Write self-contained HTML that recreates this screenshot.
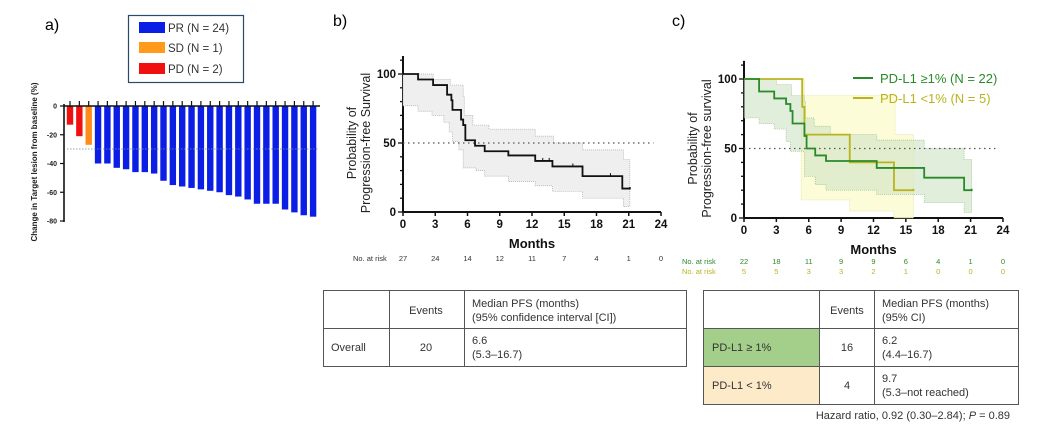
<!DOCTYPE html>
<html><head><meta charset="utf-8"><style>
body{margin:0;background:#fff;width:1038px;height:435px;overflow:hidden;font-family:"Liberation Sans",Arial,sans-serif}
svg{position:absolute;left:0;top:0}
</style></head><body>
<svg id="s" width="1038" height="435" xmlns="http://www.w3.org/2000/svg" font-family="Liberation Sans, Arial, sans-serif">
<text x="45" y="30" font-size="16">a)</text>
<text x="333" y="26" font-size="16">b)</text>
<text x="672" y="26" font-size="16">c)</text>
<rect x="128.5" y="15.5" width="115" height="67" fill="#fff" stroke="#2a4a6a" stroke-width="1.2"/>
<rect x="139" y="22" width="26" height="11" fill="#0a1ee6"/>
<rect x="139" y="42" width="26" height="11" fill="#ff9a1a"/>
<rect x="139" y="63" width="26" height="11" fill="#f01010"/>
<text x="168" y="32" font-size="11.5" fill="#333">PR (N = 24)</text>
<text x="168" y="52" font-size="11.5" fill="#333">SD (N = 1)</text>
<text x="168" y="73" font-size="11.5" fill="#333">PD (N = 2)</text>
<text transform="translate(37,162) rotate(-90)" text-anchor="middle" font-size="8" font-weight="bold" fill="#222">Change in Target lesion from baseline (%)</text>
<g id="a"></g>
<g stroke="#555" stroke-width="1" fill="none">
<rect x="323.5" y="290.5" width="363" height="76"/>
<line x1="389.5" y1="290" x2="389.5" y2="367"/><line x1="464.5" y1="290" x2="464.5" y2="367"/>
<line x1="323" y1="328.5" x2="687" y2="328.5"/>
</g>
<g font-size="11" fill="#333">
<text x="426" y="314" text-anchor="middle">Events</text>
<text x="472" y="307">Median PFS (months)</text>
<text x="472" y="321">(95% confidence interval [CI])</text>
<text x="331" y="351">Overall</text>
<text x="426" y="351" text-anchor="middle">20</text>
<text x="472" y="344">6.6</text>
<text x="472" y="358">(5.3–16.7)</text>
</g>
<rect x="703" y="328" width="116" height="38" fill="#a3cf8a"/>
<rect x="703" y="366" width="116" height="38" fill="#fdeac8"/>
<g stroke="#555" stroke-width="1" fill="none">
<rect x="703.5" y="290.5" width="315" height="114"/>
<line x1="819.5" y1="290" x2="819.5" y2="405"/><line x1="874.5" y1="290" x2="874.5" y2="405"/>
<line x1="703" y1="328.5" x2="1019" y2="328.5"/><line x1="703" y1="366.5" x2="1019" y2="366.5"/>
</g>
<g font-size="11" fill="#333">
<text x="847" y="314" text-anchor="middle">Events</text>
<text x="882" y="307">Median PFS (months)</text>
<text x="882" y="321">(95% CI)</text>
<text x="712" y="351">PD-L1 ≥ 1%</text>
<text x="847" y="351" text-anchor="middle">16</text>
<text x="882" y="344">6.2</text><text x="882" y="358">(4.4–16.7)</text>
<text x="712" y="389">PD-L1 &lt; 1%</text>
<text x="847" y="389" text-anchor="middle">4</text>
<text x="882" y="382">9.7</text><text x="882" y="396">(5.3–not reached)</text>
<text x="1010" y="419" text-anchor="end">Hazard ratio, 0.92 (0.30–2.84); <tspan font-style="italic">P</tspan> = 0.89</text>
</g>
<g id="b"></g><g id="c"></g>
</svg>
<script>
const NS="http://www.w3.org/2000/svg";
function el(p,t,a,txt){const e=document.createElementNS(NS,t);for(const k in a)e.setAttribute(k,a[k]);if(txt!==undefined)e.textContent=txt;p.appendChild(e);return e;}
const A=document.getElementById('a');
const vals=[-13,-21,-27,-40,-40,-43,-44,-46,-46,-47,-52,-55,-56,-57,-58,-59,-60,-62,-63,-65,-68,-68,-68,-72,-74,-76,-77];
vals.forEach((v,i)=>{const cx=70+i*9.35;const col=i<2?'#f01010':(i==2?'#ff8c1a':'#0a1ee6');
el(A,'rect',{x:cx-3.2,y:106,width:6.4,height:-v*1.4375,fill:col});
el(A,'line',{x1:cx,y1:101,x2:cx,y2:106,stroke:'#111','stroke-width':1.2});});
el(A,'line',{x1:67,y1:149,x2:318,y2:149,stroke:'#888','stroke-width':0.8,'stroke-dasharray':'1.5,1.5'});
el(A,'line',{x1:64,y1:106,x2:320,y2:106,stroke:'#111','stroke-width':1.6});
el(A,'line',{x1:64,y1:104,x2:64,y2:222,stroke:'#111','stroke-width':1.6});
[0,-20,-40,-60,-80].forEach(v=>{const y=106-v*1.4375;el(A,'line',{x1:60,y1:y,x2:64,y2:y,stroke:'#111','stroke-width':1.2});
el(A,'text',{x:57,y:y+2.5,'font-size':7,'font-weight':'bold','text-anchor':'end',fill:'#222'},String(v));});
function step(pts,X,Y){let d='M'+X(pts[0][0])+','+Y(pts[0][1]);for(let i=1;i<pts.length;i++){d+='H'+X(pts[i][0])+'V'+Y(pts[i][1]);}return d;}
function band(up,lo,X,Y){let d=step(up,X,Y);const L=lo;let s='V'+Y(L[L.length-1][1]);for(let i=L.length-1;i>0;i--){s+='H'+X(L[i][0])+'V'+Y(L[i-1][1]);}s+='H'+X(L[0][0])+'Z';return d+s;}
function axes(G,x0,y0,y100,xs,title){
 const X=m=>x0+m*xs, Y=p=>y0-(y0-y100)*p/100;
 el(G,'line',{x1:x0,y1:y0,x2:X(24),y2:y0,stroke:'#111','stroke-width':2});
 el(G,'line',{x1:x0,y1:y0,x2:x0,y2:Y(113),stroke:'#111','stroke-width':2});
 for(let m=0;m<=24;m+=3){el(G,'line',{x1:X(m),y1:y0,x2:X(m),y2:y0+4,stroke:'#111','stroke-width':1.5});
  el(G,'text',{x:X(m),y:y0+16,'font-size':11.5,'font-weight':'bold','text-anchor':'middle',fill:'#111'},String(m));}
 for(let p=0;p<=110;p+=10){el(G,'line',{x1:x0-(p%50?3:5),y1:Y(p),x2:x0,y2:Y(p),stroke:'#111','stroke-width':1.3});}
 [0,50,100].forEach(p=>el(G,'text',{x:x0-7,y:Y(p)+4,'font-size':11.5,'font-weight':'bold','text-anchor':'end',fill:'#111'},String(p)));
 el(G,'text',{x:X(12),y:y0+36,'font-size':13,'font-weight':'bold','text-anchor':'middle',fill:'#111'},'Months');
 const tx=x0-47;
 el(G,'text',{transform:`translate(${tx},${(Y(100)+y0)/2}) rotate(-90)`,'font-size':12.5,'text-anchor':'middle',fill:'#222'},'Probability of');
 el(G,'text',{transform:`translate(${tx+14},${(Y(100)+y0)/2}) rotate(-90)`,'font-size':12.5,'text-anchor':'middle',fill:'#222'},title);
 return [X,Y];
}
const B=document.getElementById('b');
let [X,Y]=axes(B,403,212,74,10.75,'Progression-free Survival');
const bk=[[0,100],[1.4,96],[2.8,92],[4.1,85],[4.5,81],[4.6,74],[5.4,67],[5.6,63],[5.8,52],[6.7,48],[7.6,44],[9.8,41],[12.3,37],[13.9,33],[16.7,26],[20.4,17],[21.1,18]];
const bu=[[0,100],[2.8,96],[4.4,92],[5.6,84],[5.7,70],[6.5,63],[8,60],[12.3,55],[14,50],[16.7,45],[20.5,38],[21.1,38]];
const bl=[[0,77],[1.4,73],[2.7,70],[3.8,65],[4.3,58],[4.6,51],[5.2,45],[5.6,32],[6.8,30],[7.6,26],[9.8,22],[12.3,19],[13.9,15],[16.7,10],[20.5,4],[21.1,4]];
el(B,'path',{d:band(bu,bl,X,Y),fill:'#efefef',stroke:'#aaa','stroke-width':0.7,'stroke-dasharray':'1,1'});
el(B,'line',{x1:X(0),y1:Y(50),x2:X(23.3),y2:Y(50),stroke:'#555','stroke-width':1.2,'stroke-dasharray':'1.5,3.5'});
el(B,'path',{d:step(bk,X,Y),fill:'none',stroke:'#111','stroke-width':1.8});
[[13,37],[13.6,37],[15.8,33],[19.3,26]].forEach(c=>el(B,'line',{x1:X(c[0]),y1:Y(c[1])-3,x2:X(c[0]),y2:Y(c[1]),stroke:'#111'}));
el(B,'text',{x:353,y:261,'font-size':7.5,fill:'#333'},'No. at risk');
[27,24,14,12,11,7,4,1,0].forEach((n,i)=>el(B,'text',{x:X(i*3),y:261,'font-size':7.5,'text-anchor':'middle',fill:'#333'},String(n)));
const C=document.getElementById('c');
[X,Y]=axes(C,744,218,79,10.79,'Progression-free survival');
const G='#2a8a2a',YL='#b9b41e';
const gu=[[0,100],[3,96],[4.4,88],[5.6,84],[5.7,72],[6.5,66],[8,60],[12.3,56],[16.7,50],[20.4,42],[21.1,42]];
const gl=[[0,72],[1.4,68],[2.8,64],[3.9,55],[4.3,48],[5.6,30],[6.6,24],[7.6,20],[12.3,17],[16.7,11],[20.4,4],[21.1,4]];
const yu=[[5.3,100],[5.6,88],[13.9,88],[14,60],[15.7,60]];
const yl=[[5.3,13],[9.8,5],[13.9,0],[15.7,0]];
el(C,'path',{d:band(yu,yl,X,Y),fill:'#fbfbd2',stroke:'#dede90','stroke-width':0.7,'stroke-dasharray':'1,1','fill-opacity':0.85});
el(C,'path',{d:band(gu,gl,X,Y),fill:'#cfe3c4','fill-opacity':0.6,stroke:'#9ac08a','stroke-width':0.7,'stroke-dasharray':'1,1'});
el(C,'line',{x1:X(0),y1:Y(50),x2:X(23.3),y2:Y(50),stroke:'#555','stroke-width':1.2,'stroke-dasharray':'1.5,3.5'});
el(C,'path',{d:step([[0,100],[5.3,100],[5.4,80],[5.6,60],[9.8,40],[13.9,20],[15.7,21]],X,Y),fill:'none',stroke:YL,'stroke-width':1.8});
el(C,'path',{d:step([[0,100],[1.4,91],[2.8,86],[3.9,82],[4.3,77],[4.5,68],[5.6,59],[5.8,50],[6.6,45],[7.6,41],[12.3,36],[16.7,29],[20.4,20],[21.1,21]],X,Y),fill:'none',stroke:G,'stroke-width':1.8});
el(C,'line',{x1:853,y1:78,x2:873,y2:78,stroke:G,'stroke-width':2});
el(C,'line',{x1:853,y1:98,x2:873,y2:98,stroke:YL,'stroke-width':2});
el(C,'text',{x:880,y:83,'font-size':13,fill:G},'PD-L1 ≥1% (N = 22)');
el(C,'text',{x:880,y:103,'font-size':13,fill:YL},'PD-L1 <1% (N = 5)');
el(C,'text',{x:682,y:264,'font-size':7.5,fill:G},'No. at risk');
el(C,'text',{x:682,y:274,'font-size':7.5,fill:YL},'No. at risk');
[22,18,11,9,9,6,4,1,0].forEach((n,i)=>el(C,'text',{x:X(i*3),y:264,'font-size':7.5,'text-anchor':'middle',fill:G},String(n)));
[5,5,3,3,2,1,0,0,0].forEach((n,i)=>el(C,'text',{x:X(i*3),y:274,'font-size':7.5,'text-anchor':'middle',fill:YL},String(n)));
</script>
</body></html>
